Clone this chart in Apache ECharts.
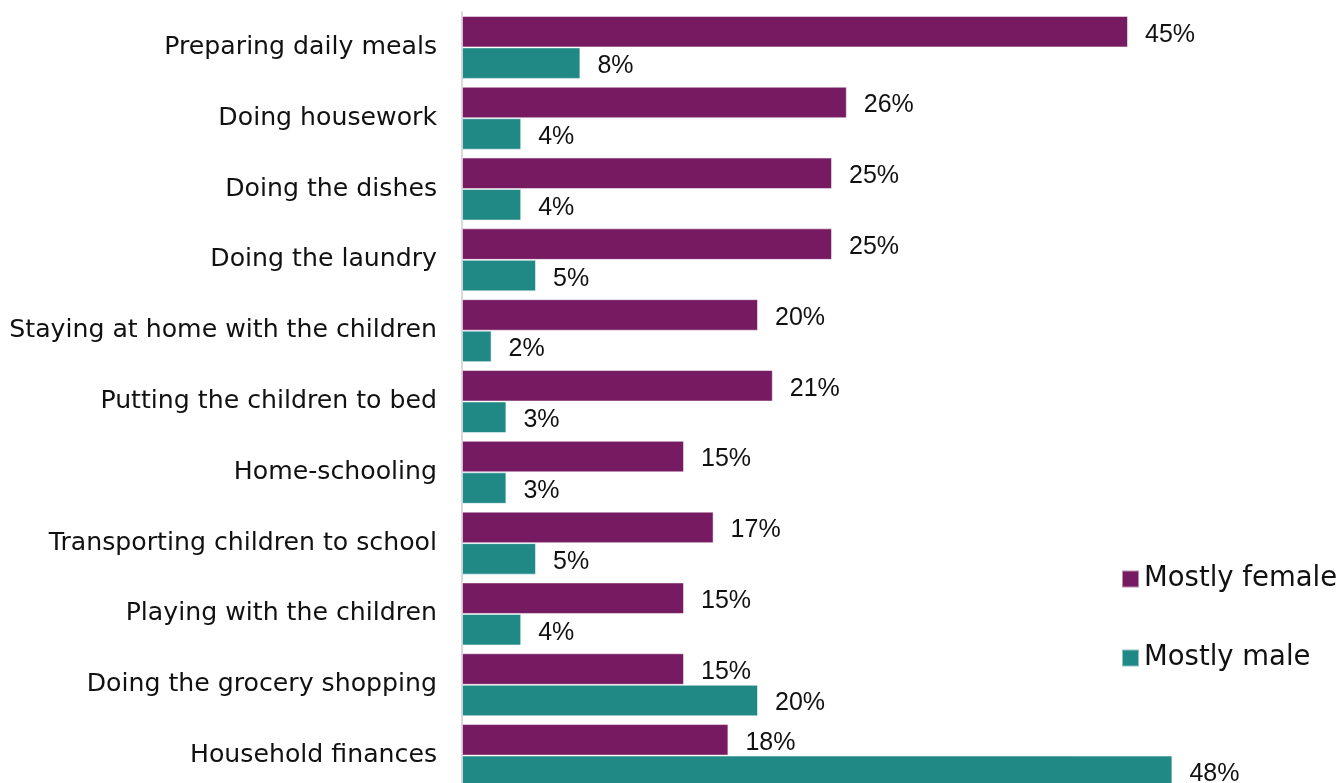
<!DOCTYPE html>
<html>
<head>
<meta charset="utf-8">
<title>Household tasks by gender</title>
<script src="https://cdn.jsdelivr.net/npm/echarts@6/dist/echarts.min.js"></script>
<style>
  html, body { margin: 0; padding: 0; background: #ffffff; overflow: hidden; }
  /* the last bar runs past the bottom edge, so the drawing area is a little taller than the view */
  #chart { width: 1343px; height: 800px; }
</style>
</head>
<body>
<div id="chart"></div>
<script>
// Tasks, listed top to bottom
const categories = [
  'Preparing daily meals',
  'Doing housework',
  'Doing the dishes',
  'Doing the laundry',
  'Staying at home with the children',
  'Putting the children to bed',
  'Home-schooling',
  'Transporting children to school',
  'Playing with the children',
  'Doing the grocery shopping',
  'Household finances'
];

// Share of respondents (%) saying the task is done mostly by women / by men
const mostlyFemale = [45, 26, 25, 25, 20, 21, 15, 17, 15, 15, 18];
const mostlyMale   = [8, 4, 4, 5, 2, 3, 3, 5, 4, 20, 48];

const seriesNames = ['Mostly female', 'Mostly male'];

const WIDE_FONT = '"DejaVu Sans", Verdana, sans-serif';
const NUM_FONT = '"Liberation Sans", Arial, sans-serif';
const PURPLE = '#761a61';
const TEAL = '#208986';

const chart = echarts.init(document.getElementById('chart'), null, { renderer: 'canvas' });

const valueLabel = {
  show: true,
  position: 'right',
  distance: 17,
  offset: [0, 3],
  formatter: '{c}%',
  color: '#111111',
  fontFamily: NUM_FONT,
  fontSize: 25
};

chart.setOption({
  animation: false,
  backgroundColor: '#ffffff',
  grid: {
    left: 462,
    width: 740,
    top: 12,
    height: 779,
    containLabel: false
  },
  legend: {
    orient: 'vertical',
    left: 1121,
    top: 565,
    padding: 0,
    itemWidth: 17,
    itemHeight: 17,
    itemGap: 51,
    icon: 'rect',
    textStyle: {
      color: '#111111',
      fontFamily: WIDE_FONT,
      fontSize: 27.5
    },
    data: seriesNames
  },
  xAxis: {
    type: 'value',
    min: 0,
    max: 50,
    show: false
  },
  yAxis: {
    type: 'category',
    data: categories,
    inverse: true,
    axisLine: { show: true, lineStyle: { color: '#d9d9d9', width: 2 } },
    axisTick: { show: false },
    axisLabel: {
      color: '#111111',
      fontFamily: WIDE_FONT,
      fontSize: 25.2,
      margin: 25
    }
  },
  series: [
    {
      name: seriesNames[0],
      type: 'bar',
      data: mostlyFemale,
      barWidth: 31.5,
      barGap: '0%',
      itemStyle: { color: PURPLE, borderColor: 'rgba(255,255,255,0.5)', borderWidth: 1 },
      label: valueLabel
    },
    {
      name: seriesNames[1],
      type: 'bar',
      data: mostlyMale,
      barWidth: 31.5,
      barGap: '0%',
      itemStyle: { color: TEAL, borderColor: 'rgba(255,255,255,0.5)', borderWidth: 1 },
      label: valueLabel
    }
  ]
});
</script>
</body>
</html>
